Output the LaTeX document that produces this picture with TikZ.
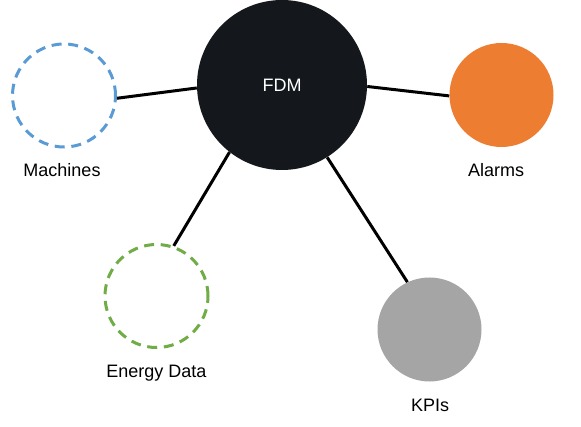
\documentclass[tikz,border=0pt]{standalone}
\usepackage{fontspec}
\setmainfont{Liberation Sans}
\usepackage{tikz}
\usetikzlibrary{positioning}
\definecolor{fdmblack}{HTML}{14171B}
\definecolor{machblue}{HTML}{5B9BD5}
\definecolor{energygreen}{HTML}{70AD47}
\definecolor{alarmorange}{HTML}{ED7D31}
\definecolor{kpigray}{HTML}{A5A5A5}
\tikzset{
  hub/.style      = {circle, fill=fdmblack, text=white, minimum size=127.5pt,
                     inner sep=0pt},
  ringnode/.style = {circle, draw=#1, line width=2.25pt,
                     dash pattern=on 7.5pt off 5pt, minimum size=77.25pt,
                     inner sep=0pt},
  discnode/.style = {circle, fill=#1, minimum size=78pt, inner sep=0pt},
  lbl/.style      = {anchor=base, inner sep=0pt},
  link/.style     = {line width=2.25pt, black},
}

\begin{document}
\begin{tikzpicture}[x=0.75pt,y=-0.75pt,font=\fontsize{13.5pt}{16pt}\selectfont]
\useasboundingbox (0,0) rectangle (581,427);
\node[hub] (fdm) at (282,85) {FDM};
\node[ringnode=machblue] (machines) at (64,95.5) {};
\node[discnode=alarmorange] (alarms) at (501.5,95) {};
\node[ringnode=energygreen] (energy) at (156.5,296) {};
\node[discnode=kpigray] (kpis) at (429.5,329.5) {};
% labels under the circles
\node[lbl] (machines-lbl) at (62,177) {Machines};
\node[lbl] (alarms-lbl) at (496,177) {Alarms};
\node[lbl] (energy-lbl) at (156.5,377) {Energy Data};
\node[lbl] (kpis-lbl) at (430,411) {KPIs};
% links to the hub
\draw[link] (machines.-3) -- (fdm.182);
\draw[link] (fdm.-1) -- (alarms.181);
\draw[link] (fdm.232) -- (energy.71);
\draw[link] (fdm.302) -- (kpis.115);
\end{tikzpicture}
\end{document}
